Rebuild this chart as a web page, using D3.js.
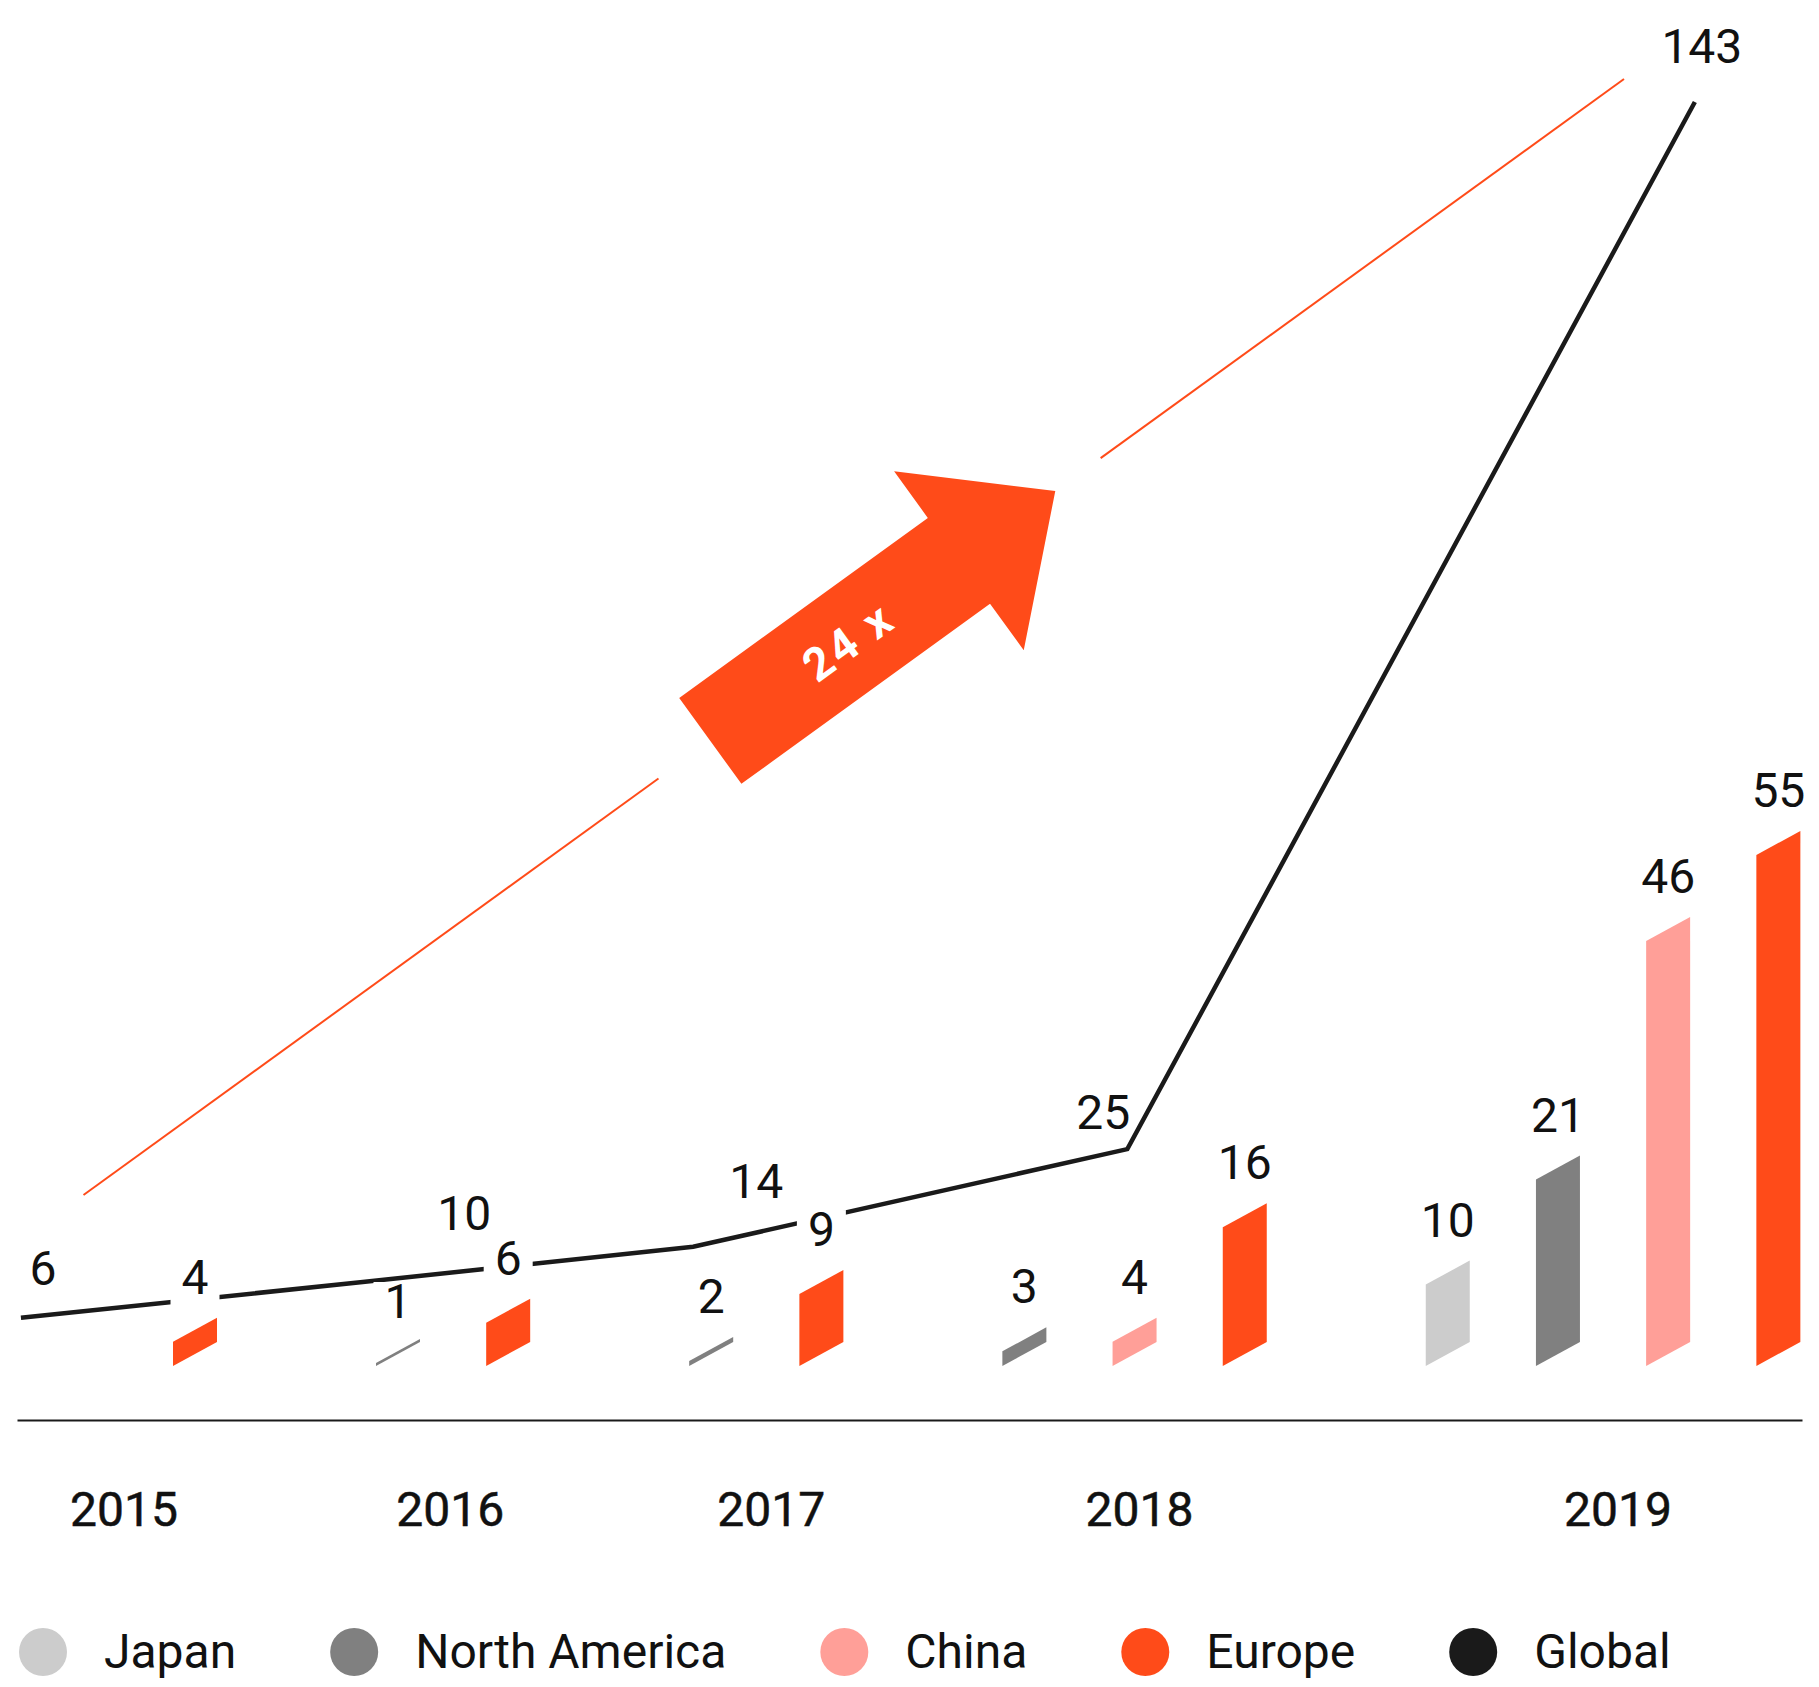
<!DOCTYPE html>
<html>
<head>
<meta charset="utf-8">
<script src="https://cdn.jsdelivr.net/npm/d3@7"></script>
<style>
  body { margin: 0; background: #fff; }
  svg text { font-family: Roboto, "Noto Sans", sans-serif; fill: #111; }
</style>
</head>
<body>
<div id="chart"></div>
<script>
// ---- data ----
const years = [2015, 2016, 2017, 2018, 2019];
const japan = [null, null, null, null, 10];
const northAmerica = [null, 1, 2, 3, 21];
const china = [null, null, null, 4, 46];
const europe = [4, 6, 9, 16, 55];
const global = [6, 10, 14, 25, 143];
const legendLabels = ["Japan", "North America", "China", "Europe", "Global"];

// ---- colours ----
const colors = {
  "Japan": "#cccccc",
  "North America": "#808080",
  "China": "#ff9f98",
  "Europe": "#ff4b19",
  "Global": "#1a1a1a"
};

// ---- layout ----
const width = 1819, height = 1687;
const barW = 44, skew = 24, baseY = 1366;
const slotStep = 110.2, firstX = 173, groupGap = 0.842; // group gap in slot units
// where the global line sits on each year, in slot units
const globalSlot = [-1.38, 1.70, 4.72, 8.66, 13.81];
// label offsets for the global line values
const globalLabelOffset = [[22, -33], [104, -52], [63, -49], [-24, -20], [7, -39]];
// orange trend guide
const trendStart = [83.5, 1195], trendEnd = [1624, 79];

const series = [
  { name: "Japan", values: japan },
  { name: "North America", values: northAmerica },
  { name: "China", values: china },
  { name: "Europe", values: europe }
];

const svg = d3.select("#chart")
  .append("svg")
  .attr("width", width)
  .attr("height", height);

// scales
const x = d3.scaleLinear().domain([0, 1]).range([firstX, firstX + slotStep]);
const barH = d3.scaleLinear().domain([0, 55]).range([-14, 511]);
const gy = d3.scaleLinear().domain([0, 143]).range([1371, 102]);

// flatten bars, packed per year
let bars = [], slot = 0;
years.forEach((yr, g) => {
  series.forEach(s => {
    const v = s.values[g];
    if (v == null) return;
    bars.push({ year: yr, g: g, region: s.name, value: v, slot: slot + groupGap * g });
    slot++;
  });
});
bars.forEach(d => {
  d.x = x(d.slot);
  d.raw = barH(d.value);
  d.h = Math.max(3, d.raw);
});

// baseline axis
const axisScale = d3.scaleLinear().range([17, 1802]);
svg.append("g")
  .attr("class", "axis x-axis")
  .attr("transform", "translate(0,1420)")
  .call(d3.axisBottom(axisScale).tickValues([]).tickSizeOuter(0))
  .select(".domain")
  .attr("stroke", "#1a1a1a")
  .attr("stroke-width", 2);

// trend guide + arrow
const dx = trendEnd[0] - trendStart[0], dy = trendEnd[1] - trendStart[1];
const len = Math.hypot(dx, dy);
const ux = dx / len, uy = dy / len;
const angle = Math.atan2(dy, dx) * 180 / Math.PI;
const at = t => [trendStart[0] + ux * t, trendStart[1] + uy * t];

[[0, 710], [1256, len]].forEach(seg => {
  const a = at(seg[0]), b = at(seg[1]);
  svg.append("line")
    .attr("x1", a[0]).attr("y1", a[1])
    .attr("x2", b[0]).attr("y2", b[1])
    .attr("stroke", colors.Europe)
    .attr("stroke-width", 2);
});

const tail = at(774);
const arrow = svg.append("g")
  .attr("transform", `translate(${tail[0]},${tail[1]}) rotate(${angle})`);
arrow.append("path")
  .attr("d", d3.line()([[0, -53], [307, -53], [307, -110.5], [426, 0], [307, 110.5], [307, 53], [0, 53]]) + "Z")
  .attr("fill", colors.Europe);
arrow.append("text")
  .attr("x", 170)
  .attr("y", 0)
  .attr("dy", "0.36em")
  .attr("text-anchor", "middle")
  .style("fill", "#fff")
  .style("font-weight", 700)
  .style("font-size", "46px")
  .style("letter-spacing", "3px")
  .text(`${Math.round(global[4] / global[0])} x`);

// global line
const globalPts = global.map((v, i) => [x(globalSlot[i]), gy(v)]);
svg.append("path")
  .attr("d", d3.line()(globalPts))
  .attr("fill", "none")
  .attr("stroke", colors.Global)
  .attr("stroke-width", 4.5)
  .attr("stroke-linejoin", "miter");

// bars (skewed parallelograms)
svg.selectAll(".bar")
  .data(bars)
  .enter()
  .append("path")
  .attr("class", "bar")
  .attr("d", d => d3.line()([
    [d.x, baseY], [d.x, baseY - d.h],
    [d.x + barW, baseY - skew - d.h], [d.x + barW, baseY - skew]
  ]) + "Z")
  .attr("fill", d => colors[d.region]);

// bar labels with white backing so they cut the line
const labels = svg.selectAll(".bar-label")
  .data(bars)
  .enter()
  .append("g")
  .attr("class", "bar-label");
labels.append("rect").attr("fill", "#fff");
labels.append("text")
  .attr("x", d => d.x + barW / 2)
  .attr("y", d => baseY - skew - Math.max(0, d.raw) - 24)
  .attr("text-anchor", "middle")
  .style("font-size", "48px")
  .text(d => d.value);
labels.each(function () {
  const t = d3.select(this).select("text");
  const bb = t.node().getBBox();
  const base = +t.attr("y");
  d3.select(this).select("rect")
    .attr("x", bb.x - 11).attr("y", base - 36)
    .attr("width", bb.width + 22).attr("height", 50);
});

// global value labels
svg.selectAll(".global-label")
  .data(global)
  .enter()
  .append("text")
  .attr("class", "global-label")
  .attr("x", (d, i) => globalPts[i][0] + globalLabelOffset[i][0])
  .attr("y", (d, i) => globalPts[i][1] + globalLabelOffset[i][1])
  .attr("text-anchor", "middle")
  .style("font-size", "48px")
  .text(d => d);

// year labels, centred on each year's group
svg.selectAll(".year-label")
  .data(years)
  .enter()
  .append("text")
  .attr("class", "year-label")
  .attr("x", (yr, g) => {
    const gb = bars.filter(b => b.g === g);
    const lo = Math.min(globalPts[g][0], d3.min(gb, b => b.x));
    const hi = d3.max(gb, b => b.x + barW);
    return (lo + hi) / 2 + 5;
  })
  .attr("y", 1526)
  .attr("text-anchor", "middle")
  .style("font-size", "48px")
  .style("font-weight", 400)
  .style("stroke", "#111")
  .style("stroke-width", 0.5)
  .text(d => d);

// legend
const legend = svg.append("g").attr("class", "legend");
let cx = 43;
legendLabels.forEach(name => {
  legend.append("circle")
    .attr("cx", cx).attr("cy", 1652).attr("r", 24)
    .attr("fill", colors[name]);
  const t = legend.append("text")
    .attr("x", cx + 61)
    .attr("y", 1668)
    .style("font-size", "48px")
    .text(name);
  cx = cx + 61 + t.node().getComputedTextLength() + 94 + 24;
});
</script>
</body>
</html>
